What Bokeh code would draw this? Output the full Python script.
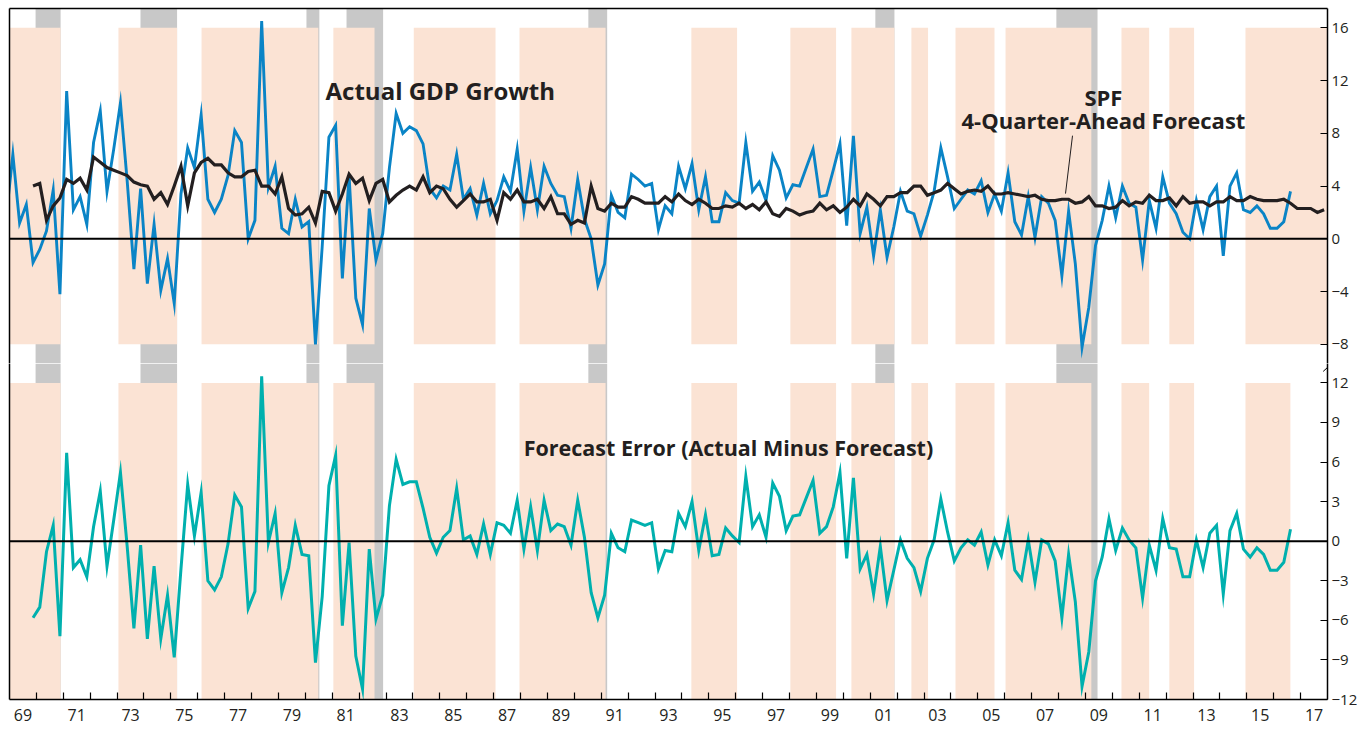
from bokeh.plotting import figure
from bokeh.models import Range1d, LinearAxis, FixedTicker, Span, Label, Arrow
from bokeh.layouts import column
from bokeh.embed import file_html
from bokeh.resources import INLINE

# ---------------- data (quarterly, % annualized) ----------------
ACTUAL_START = (1968, 4)      # first quarter of actual GDP series
FORECAST_START = (1969, 4)    # first quarter of SPF forecast / error series

actual_gdp = [
    1.6, 6.4, 1.2, 2.6, -1.8, -0.8, 0.6, 3.7, -4.2, 11.2,
    2.2, 3.2, 1.1, 7.3, 9.7, 3.6, 6.8, 10.3, 4.4, -2.3,
    3.8, -3.4, 1.1, -3.9, -1.5, -4.9, 3.4, 6.9, 5.4, 9.4,
    3.0, 2.0, 3.0, 4.8, 8.2, 7.3, 0.0, 1.4, 16.5, 3.9,
    5.5, 0.8, 0.4, 3.0, 0.9, 1.3, -8.0, -0.6, 7.7, 8.6,
    -3.0, 4.8, -4.5, -6.5, 2.3, -1.6, 0.4, 5.4, 9.5, 8.0,
    8.5, 8.2, 7.2, 3.8, 3.1, 4.0, 3.7, 6.4, 3.0, 3.8,
    1.8, 4.2, 1.9, 2.9, 4.7, 3.6, 6.8, 2.1, 5.4, 2.2,
    5.5, 4.2, 3.3, 3.2, 0.8, 4.5, 1.5, 0.0, -3.5, -1.9,
    3.3, 2.0, 1.6, 4.9, 4.5, 4.0, 4.2, 0.7, 2.5, 1.9,
    5.5, 3.8, 5.7, 2.2, 4.7, 1.3, 1.3, 3.5, 2.9, 2.7,
    7.3, 3.6, 4.3, 2.9, 6.3, 5.2, 3.1, 4.1, 4.0, 5.4,
    6.8, 3.2, 3.3, 5.2, 7.2, 1.0, 7.8, 0.4, 2.4, -1.3,
    2.2, -1.4, 0.9, 3.6, 2.1, 1.9, 0.2, 1.8, 3.6, 6.9,
    4.7, 2.3, 3.0, 3.7, 3.4, 4.4, 2.0, 3.4, 2.1, 5.0,
    1.3, 0.3, 3.2, 0.1, 3.2, 2.7, 1.4, -2.8, 2.1, -1.9,
    -8.2, -5.2, -0.5, 1.4, 4.0, 1.6, 4.0, 2.7, 2.4, -1.6,
    2.9, 0.8, 4.7, 2.7, 1.9, 0.5, 0.0, 2.9, 0.7, 3.2,
    4.0, -1.3, 4.0, 5.0, 2.2, 2.0, 2.5, 1.9, 0.8, 0.8,
    1.3, 3.6,
]

spf_forecast = [
    4.0, 4.2, 1.4, 2.5, 3.1, 4.5, 4.2, 4.6, 3.7, 6.2,
    5.8, 5.4, 5.2, 5.0, 4.8, 4.3, 4.1, 4.0, 3.0, 3.5,
    2.6, 4.0, 5.5, 2.5, 5.0, 5.8, 6.1, 5.6, 5.6, 5.0,
    4.7, 4.7, 5.1, 5.2, 4.0, 4.0, 3.4, 4.7, 2.3, 1.8,
    1.9, 2.4, 1.2, 3.6, 3.5, 2.1, 3.4, 4.9, 4.2, 4.6,
    2.9, 4.2, 4.5, 2.8, 3.3, 3.7, 4.0, 3.7, 4.7, 3.5,
    4.0, 3.8, 3.0, 2.4, 2.9, 3.4, 2.8, 2.8, 3.0, 1.4,
    3.5, 3.0, 3.7, 2.8, 2.8, 3.0, 2.3, 3.2, 1.9, 1.9,
    1.1, 1.4, 1.2, 4.0, 2.3, 2.1, 2.7, 2.4, 2.4, 3.2,
    3.0, 2.7, 2.7, 2.7, 3.2, 2.8, 3.4, 2.9, 2.6, 3.0,
    2.7, 2.3, 2.3, 2.5, 2.4, 2.7, 2.3, 2.6, 2.2, 2.8,
    1.9, 1.7, 2.3, 2.1, 1.8, 2.0, 2.1, 2.7, 2.2, 2.5,
    2.0, 2.4, 3.0, 2.5, 3.4, 3.0, 2.5, 3.2, 3.2, 3.5,
    3.5, 4.0, 4.0, 3.3, 3.5, 3.7, 4.2, 3.8, 3.4, 3.6,
    3.7, 3.6, 4.0, 3.4, 3.4, 3.5, 3.4, 3.3, 3.2, 3.3,
    3.0, 2.9, 2.9, 3.0, 3.0, 2.7, 2.8, 3.2, 2.5, 2.5,
    2.3, 2.4, 2.9, 2.5, 2.8, 2.7, 3.3, 2.9, 2.9, 3.1,
    2.5, 3.2, 2.7, 2.8, 2.8, 2.5, 2.8, 2.8, 3.2, 2.9,
    2.9, 3.2, 3.0, 2.9, 2.9, 2.9, 3.0, 2.7, 2.3, 2.3,
    2.3, 2.0, 2.2,
]

forecast_error = [
    -5.8, -5.0, -0.8, 1.2, -7.2, 6.7, -2.0, -1.4, -2.7, 1.1,
    3.8, -1.9, 1.6, 5.2, -0.4, -6.6, -0.3, -7.4, -1.9, -7.4,
    -4.1, -8.8, -2.1, 4.3, 0.4, 3.7, -3.0, -3.7, -2.7, -0.2,
    3.5, 2.6, -5.1, -3.8, 12.5, -0.1, 2.1, -3.9, -2.0, 1.2,
    -1.0, -1.1, -9.2, -4.2, 4.2, 6.5, -6.4, -0.1, -8.7, -11.2,
    -0.6, -5.9, -4.1, 2.7, 6.2, 4.3, 4.5, 4.5, 2.5, 0.3,
    -0.9, 0.3, 0.8, 4.0, 0.1, 0.4, -1.0, 1.3, -1.0, 1.4,
    1.2, 0.6, 3.1, -0.6, 2.6, -0.7, 3.1, 0.8, 1.3, 1.1,
    -0.3, 3.1, 0.3, -3.9, -5.8, -4.1, 0.6, -0.5, -0.8, 1.6,
    1.4, 1.2, 1.4, -2.1, -0.7, -0.8, 2.1, 1.1, 3.0, -0.7,
    2.0, -1.1, -1.0, 1.0, 0.4, -0.1, 4.9, 1.1, 2.0, 0.3,
    4.4, 3.4, 0.8, 1.9, 2.0, 3.3, 4.6, 0.6, 1.1, 2.6,
    5.2, -1.3, 4.8, -2.1, -1.0, -4.0, -0.4, -4.5, -2.2, 0.1,
    -1.3, -2.0, -3.8, -1.3, 0.1, 3.2, 0.7, -1.5, -0.5, 0.1,
    -0.3, 0.7, -1.8, 0.1, -1.1, 1.4, -2.2, -2.9, 0.1, -3.1,
    0.1, -0.2, -1.5, -5.8, -1.0, -4.6, -11.0, -8.4, -3.0, -1.2,
    1.7, -0.7, 1.0, 0.1, -0.5, -4.3, -0.3, -2.2, 1.7, -0.5,
    -0.6, -2.7, -2.7, 0.1, -2.0, 0.6, 1.2, -4.0, 0.8, 2.1,
    -0.6, -1.2, -0.5, -1.0, -2.2, -2.2, -1.6, 0.9,
]

# NBER recessions (grey) and shaded periods (peach), in fractional years
recession_start = [1969.97, 1973.87, 1980.04, 1981.53, 1990.52, 2001.19, 2007.92]
recession_end = [1970.90, 1975.23, 1980.52, 1982.89, 1991.22, 2001.90, 2009.45]

shade_start = [1968.75, 1973.05, 1976.14, 1981.04, 1984.03, 1987.96, 1994.35,
               1998.03, 2000.30, 2002.53, 2004.17, 2006.03, 2010.34, 2012.12, 2014.95]
shade_end_top = [1970.90, 1975.23, 1980.48, 1982.57, 1987.07, 1991.16, 1996.05,
                 1999.73, 2001.90, 2003.15, 2005.62, 2009.22, 2011.37, 2013.04, 2018.00]
shade_end_bottom = shade_end_top[:-1] + [2016.62]

top_ticks = [-8, -4, 0, 4, 8, 12, 16]
bottom_ticks = [-12, -9, -6, -3, 0, 3, 6, 9, 12]
label_years = list(range(1969, 2018, 2))
year_ticks = list(range(1970, 2018))

# ---------------- styling ----------------
BLUE = "#0a84c6"
TEAL = "#00b0ae"
DARK = "#231f20"
GREY = "#c8c8c8"
PEACH = "#fbe3d4"
FONT = "Open Sans"

X_START, X_END = 1969.0, 2018.0
FRAME_W = 1318
TOP_RANGE = (-9.45, 17.46)
BOT_RANGE = (-12.0, 13.47)


def quarter_positions(start, n):
    year, q = start
    first = year + (q - 1) / 4 + 0.125
    return [first + 0.25 * i for i in range(n)]


x_actual = quarter_positions(ACTUAL_START, len(actual_gdp))
x_forecast = quarter_positions(FORECAST_START, len(spf_forecast))
x_error = quarter_positions(FORECAST_START, len(forecast_error))

x_range = Range1d(X_START, X_END)


def blank_axis():
    return LinearAxis(ticker=FixedTicker(ticks=[]), major_tick_in=0, major_tick_out=0,
                      minor_tick_in=0, minor_tick_out=0, major_label_standoff=0,
                      major_label_text_font_size="0px", axis_line_color="black",
                      axis_line_width=1.5)


def right_axis(ticks):
    return LinearAxis(ticker=FixedTicker(ticks=ticks), major_tick_in=7, major_tick_out=0,
                      minor_tick_in=0, minor_tick_out=0, major_label_standoff=4,
                      major_label_text_font=FONT, major_label_text_font_size="15px",
                      major_label_text_color=DARK, axis_line_color="black",
                      axis_line_width=1.5, major_tick_line_width=1.2,
                      major_tick_line_color="black")


def make_fig(frame_h, yr, top_border, bottom_border):
    p = figure(frame_width=FRAME_W, frame_height=frame_h, x_range=x_range,
               y_range=Range1d(*yr), x_axis_location=None, y_axis_location=None,
               toolbar_location=None, output_backend="svg",
               min_border_left=9, min_border_right=30, min_border_top=top_border,
               min_border_bottom=bottom_border, outline_line_color=None,
               background_fill_color="white", border_fill_color="white")
    p.xgrid.visible = False
    p.ygrid.visible = False
    return p


# ---------------- top panel ----------------
p1 = make_fig(355, TOP_RANGE, 8, 0)
p1.quad(left=recession_start, right=recession_end, bottom=TOP_RANGE[0], top=TOP_RANGE[1],
        color=GREY, line_color=None)
p1.quad(left=shade_start, right=shade_end_top, bottom=min(top_ticks), top=max(top_ticks),
        color=PEACH, line_color=None)
p1.add_layout(Span(location=0, dimension="width", line_color="black", line_width=2))
p1.line(x_actual, actual_gdp, line_color=BLUE, line_width=2.9, line_join="miter")
p1.line(x_forecast, spf_forecast, line_color=DARK, line_width=3.2, line_join="miter")
p1.add_layout(blank_axis(), "left")
p1.add_layout(blank_axis(), "above")
p1.add_layout(right_axis(top_ticks), "right")

p1.add_layout(Label(x=1980.75, y=11.23, text="Actual GDP Growth", text_font=FONT,
                    text_font_style="bold", text_font_size="24px", text_color=DARK,
                    text_align="left", text_baseline="alphabetic"))
p1.add_layout(Label(x=2009.67, y=10.78, text="SPF", text_font=FONT,
                    text_font_style="bold", text_font_size="22px", text_color=DARK,
                    text_align="center", text_baseline="alphabetic"))
p1.add_layout(Label(x=2009.67, y=9.02, text="4-Quarter-Ahead Forecast", text_font=FONT,
                    text_font_style="bold", text_font_size="22px", text_color=DARK,
                    text_align="center", text_baseline="alphabetic"))
p1.segment(x0=[2008.52], y0=[7.82], x1=[2008.26], y1=[3.43], line_color=DARK, line_width=1)
p1.add_layout(Arrow(end=None, x_start=2018.16, y_start=TOP_RANGE[0], x_end=2018.59,
                    y_end=-8.62, line_color="black", line_width=1))

# ---------------- bottom panel ----------------
p2 = make_fig(336, BOT_RANGE, 0, 30)
p2.quad(left=recession_start, right=recession_end, bottom=BOT_RANGE[0], top=BOT_RANGE[1],
        color=GREY, line_color=None)
p2.quad(left=shade_start, right=shade_end_bottom, bottom=min(bottom_ticks),
        top=max(bottom_ticks), color=PEACH, line_color=None)
p2.add_layout(Span(location=0, dimension="width", line_color="black", line_width=2))
p2.line(x_error, forecast_error, line_color=TEAL, line_width=3, line_join="miter")
p2.add_layout(blank_axis(), "left")
p2.add_layout(right_axis(bottom_ticks), "right")

xaxis = LinearAxis(ticker=FixedTicker(ticks=[y + 0.5 for y in label_years],
                                      minor_ticks=year_ticks),
                   major_label_overrides={y + 0.5: f"{y % 100:02d}" for y in label_years},
                   major_tick_in=0, major_tick_out=0, minor_tick_in=7, minor_tick_out=0,
                   minor_tick_line_color="black", minor_tick_line_width=1.2,
                   major_label_standoff=9, major_label_text_font=FONT,
                   major_label_text_font_size="16px", major_label_text_color=DARK,
                   axis_line_color="black", axis_line_width=1.5)
p2.add_layout(xaxis, "below")

p2.add_layout(Label(x=1995.73, y=7.1, text="Forecast Error (Actual Minus Forecast)",
                    text_font=FONT, text_font_style="bold", text_font_size="21.5px",
                    text_color=DARK, text_align="center", text_baseline="alphabetic"))
p2.add_layout(Arrow(end=None, x_start=2018.16, y_start=BOT_RANGE[1], x_end=2017.84,
                    y_end=12.87, line_color="black", line_width=1))

layout = column(p1, p2, spacing=0)
open("out.html", "w").write(file_html(layout, INLINE))
